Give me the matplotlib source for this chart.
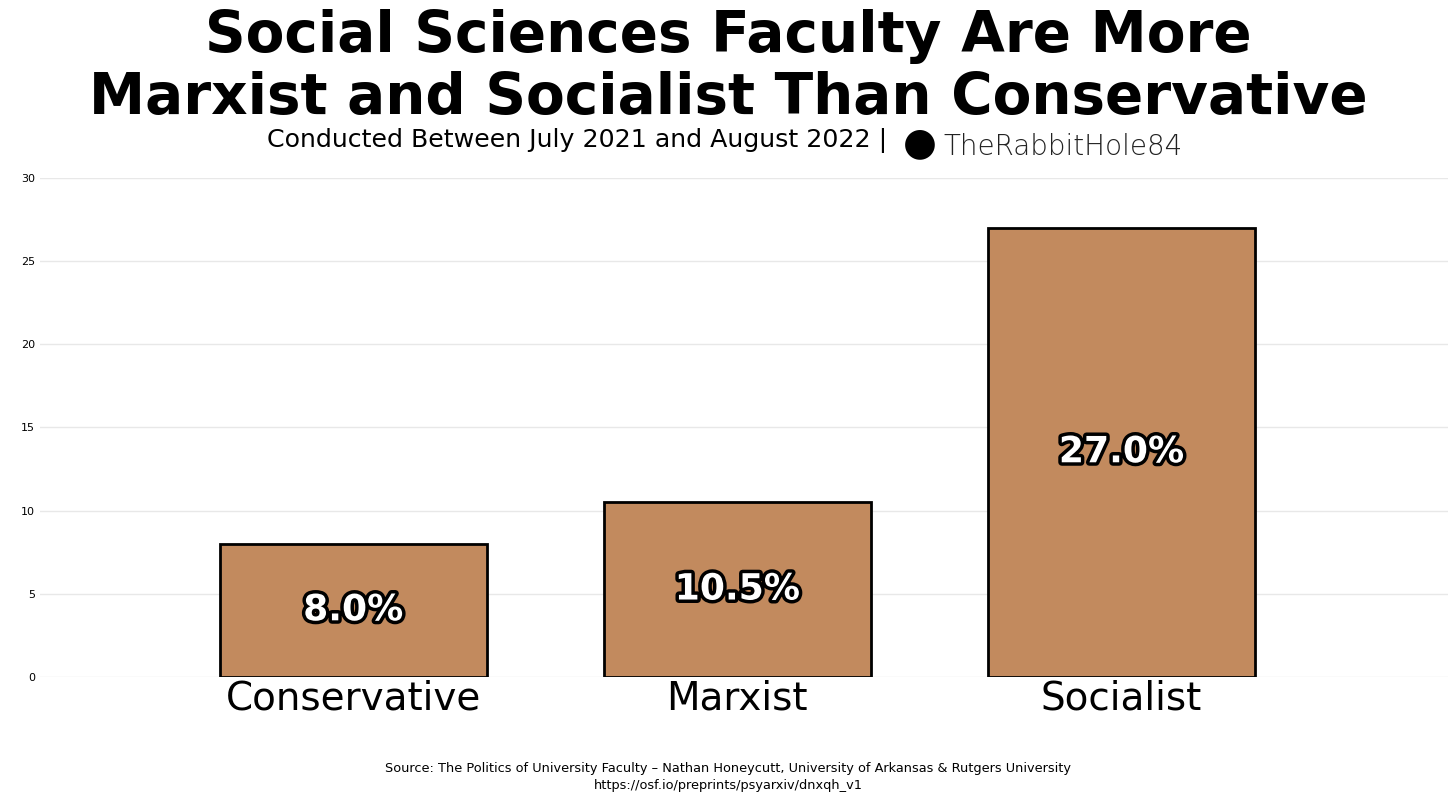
import matplotlib.pyplot as plt
import matplotlib.patheffects as pe

categories = ['Conservative', 'Marxist', 'Socialist']
values = [8.0, 10.5, 27.0]

fig = plt.figure(figsize=(14.56, 8.01), dpi=100)
ax = fig.add_axes([0.0275, 0.155, 0.967, 0.623])

ax.bar(range(len(values)), values, width=0.695, color='#c28a5e', edgecolor='black', linewidth=2, zorder=3)
for i, v in enumerate(values):
    ax.text(i, v / 2, f'{v:.1f}%', ha='center', va='center', fontsize=26, fontweight='bold',
            color='white', zorder=4, path_effects=[pe.withStroke(linewidth=5, foreground='black')])

ax.set_xlim(-0.815, 2.85)
ax.set_ylim(0, 30)
ax.set_yticks(range(0, 31, 5))
ax.set_xticks(range(len(categories)))
ax.set_xticklabels(categories, fontsize=28)
ax.tick_params(axis='y', labelsize=8, length=0)
ax.tick_params(axis='x', length=0, pad=2)
ax.grid(axis='y', color='#e8e8e8', linewidth=1, zorder=0)
for s in ax.spines.values():
    s.set_visible(False)

fig.text(0.5, 0.955, 'Social Sciences Faculty Are More', ha='center', va='center', fontsize=40.7, fontweight='bold')
fig.text(0.5, 0.877, 'Marxist and Socialist Than Conservative', ha='center', va='center', fontsize=40.7, fontweight='bold')
fig.text(0.6095, 0.824, 'Conducted Between July 2021 and August 2022 |', ha='right', va='center', fontsize=18.2)
fig.text(0.632, 0.821, '\u25CF', ha='center', va='center', fontsize=28, color='black')
fig.text(0.648, 0.817, 'TheRabbitHole84', ha='left', va='center', fontsize=20, color='#222222', fontweight='light')

fig.text(0.5, 0.030, 'Source: The Politics of University Faculty \u2013 Nathan Honeycutt, University of Arkansas & Rutgers University\nhttps://osf.io/preprints/psyarxiv/dnxqh_v1',
         ha='center', va='center', fontsize=9.3, linespacing=1.4)

fig.savefig('out.png', dpi=100)
